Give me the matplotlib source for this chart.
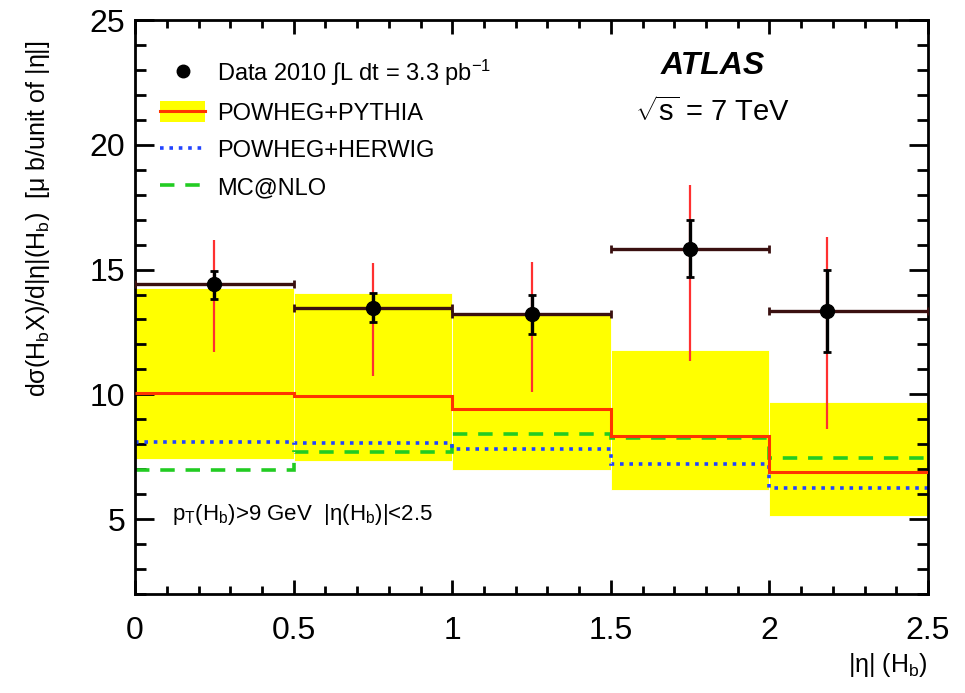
import numpy as np
import matplotlib
matplotlib.use('Agg')
import matplotlib.pyplot as plt
from matplotlib.lines import Line2D
from matplotlib.patches import Patch
from matplotlib.ticker import MultipleLocator

plt.rcParams['font.family'] = ['Liberation Sans', 'DejaVu Sans']
plt.rcParams['mathtext.fontset'] = 'custom'
plt.rcParams['mathtext.rm'] = 'Liberation Sans'
plt.rcParams['mathtext.it'] = 'Liberation Sans:italic'
plt.rcParams['mathtext.sf'] = 'Liberation Sans'

# bins in |eta|
edges = np.array([0.0, 0.5, 1.0, 1.5, 2.0, 2.5])

# data 2010
data_x = np.array([0.25, 0.75, 1.25, 1.75, 2.18])
data_y = np.array([14.41, 13.46, 13.20, 15.83, 13.33])
stat_up = np.array([14.94, 14.05, 13.98, 17.00, 14.99])
stat_dn = np.array([13.81, 12.88, 12.43, 14.69, 11.69])
tot_up = np.array([16.20, 15.25, 15.32, 18.41, 16.29])
tot_dn = np.array([11.69, 10.75, 10.11, 11.32, 8.60])

# POWHEG+PYTHIA with uncertainty band
pythia = np.array([10.07, 9.95, 9.41, 8.34, 6.89])
band_up = np.array([14.27, 14.08, 13.22, 11.79, 9.71])
band_dn = np.array([7.42, 7.33, 6.98, 6.18, 5.11])

# POWHEG+HERWIG
herwig = np.array([8.09, 8.06, 7.81, 7.20, 6.25])

# MC@NLO
mcnlo = np.array([6.96, 7.70, 8.42, 8.26, 7.46])

fig = plt.figure(figsize=(9.65, 6.93), dpi=100)
ax = fig.add_axes([0.140, 0.143, 0.8217, 0.828])

centers = 0.5 * (edges[:-1] + edges[1:])
widths = np.diff(edges)
ax.bar(centers, band_up - band_dn, bottom=band_dn, width=widths,
       color='#ffff00', edgecolor='white', linewidth=0.6, zorder=1)
ax.stairs(mcnlo, edges, baseline=None, color='#22cc22', lw=2.6, ls=(0, (4, 3)), zorder=2)
ax.stairs(herwig, edges, baseline=None, color='#2244ff', lw=2.6, ls=(0, (1, 1.6)), zorder=2)
ax.stairs(pythia, edges, baseline=None, color='#ff3300', lw=2.2, zorder=3)

# data: total error (red), stat error (black), bin width
xerr = np.vstack([data_x - edges[:-1], edges[1:] - data_x])
ax.errorbar(data_x, data_y, xerr=xerr, fmt='none', ecolor='#3a1010',
            elinewidth=2.4, capsize=3, capthick=2, zorder=4)
ax.errorbar(data_x, data_y, yerr=[data_y - tot_dn, tot_up - data_y], fmt='none',
            ecolor='#ff3030', elinewidth=1.6, zorder=4)
ax.errorbar(data_x, data_y, yerr=[data_y - stat_dn, stat_up - data_y], fmt='o',
            color='black', ms=10, elinewidth=2.4, capsize=3, capthick=2, zorder=5)

ax.set_xlim(0, 2.5)
ax.set_ylim(2, 25)
ax.xaxis.set_major_locator(MultipleLocator(0.5))
ax.xaxis.set_minor_locator(MultipleLocator(0.1))
ax.yaxis.set_major_locator(MultipleLocator(5))
ax.yaxis.set_minor_locator(MultipleLocator(1))
ax.set_xticks([0, 0.5, 1, 1.5, 2, 2.5])
ax.set_xticklabels(['0', '0.5', '1', '1.5', '2', '2.5'])
ax.tick_params(which='both', direction='in', top=True, right=True, width=2, labelsize=23)
ax.tick_params(axis='y', which='major', length=14, pad=7)
ax.tick_params(axis='y', which='minor', length=8)
ax.tick_params(axis='x', which='major', length=10, pad=16)
ax.tick_params(axis='x', which='minor', length=6)
for s in ax.spines.values():
    s.set_linewidth(2)

ax.set_ylabel('dσ(H$_{\\mathrm{b}}$X)/d|η|(H$_{\\mathrm{b}}$)  [μ b/unit of |η|]',
              fontsize=18, loc='top')
ax.yaxis.set_label_coords(-0.105, 0.965)
ax.set_xlabel('|η| (H$_{\\mathrm{b}}$)', fontsize=18, loc='right')
ax.xaxis.set_label_coords(1.0, -0.1)

ax.text(0.728, 0.92, 'ATLAS', transform=ax.transAxes, fontsize=23,
        fontweight='bold', fontstyle='italic', ha='center', va='center')
ax.text(0.728, 0.84, r'$\sqrt{\mathrm{s}}$ = 7 TeV', transform=ax.transAxes, fontsize=21,
        ha='center', va='center')
ax.text(0.047, 0.138, 'p$_{\\mathrm{T}}$(H$_{\\mathrm{b}}$)>9 GeV  |η(H$_{\\mathrm{b}}$)|<2.5',
        transform=ax.transAxes, fontsize=16, ha='left', va='center')

handles = [
    Line2D([], [], color='black', marker='o', ms=9, ls='none'),
    (Patch(facecolor='#ffff00'), Line2D([], [], color='#ff3300', lw=2.2)),
    Line2D([], [], color='#2244ff', lw=2.6, ls=(0, (1, 1.6))),
    Line2D([], [], color='#22cc22', lw=2.6, ls=(0, (4, 3))),
]
labels = [r'Data 2010 $\int$L dt = 3.3 pb$^{-1}$', 'POWHEG+PYTHIA', 'POWHEG+HERWIG', 'MC@NLO']
ax.legend(handles, labels, loc='upper left', bbox_to_anchor=(0.005, 0.972), frameon=False,
          fontsize=17, handlelength=1.9, handleheight=1.0, handletextpad=0.5,
          labelspacing=0.58)

fig.savefig('out.png', dpi=100)
